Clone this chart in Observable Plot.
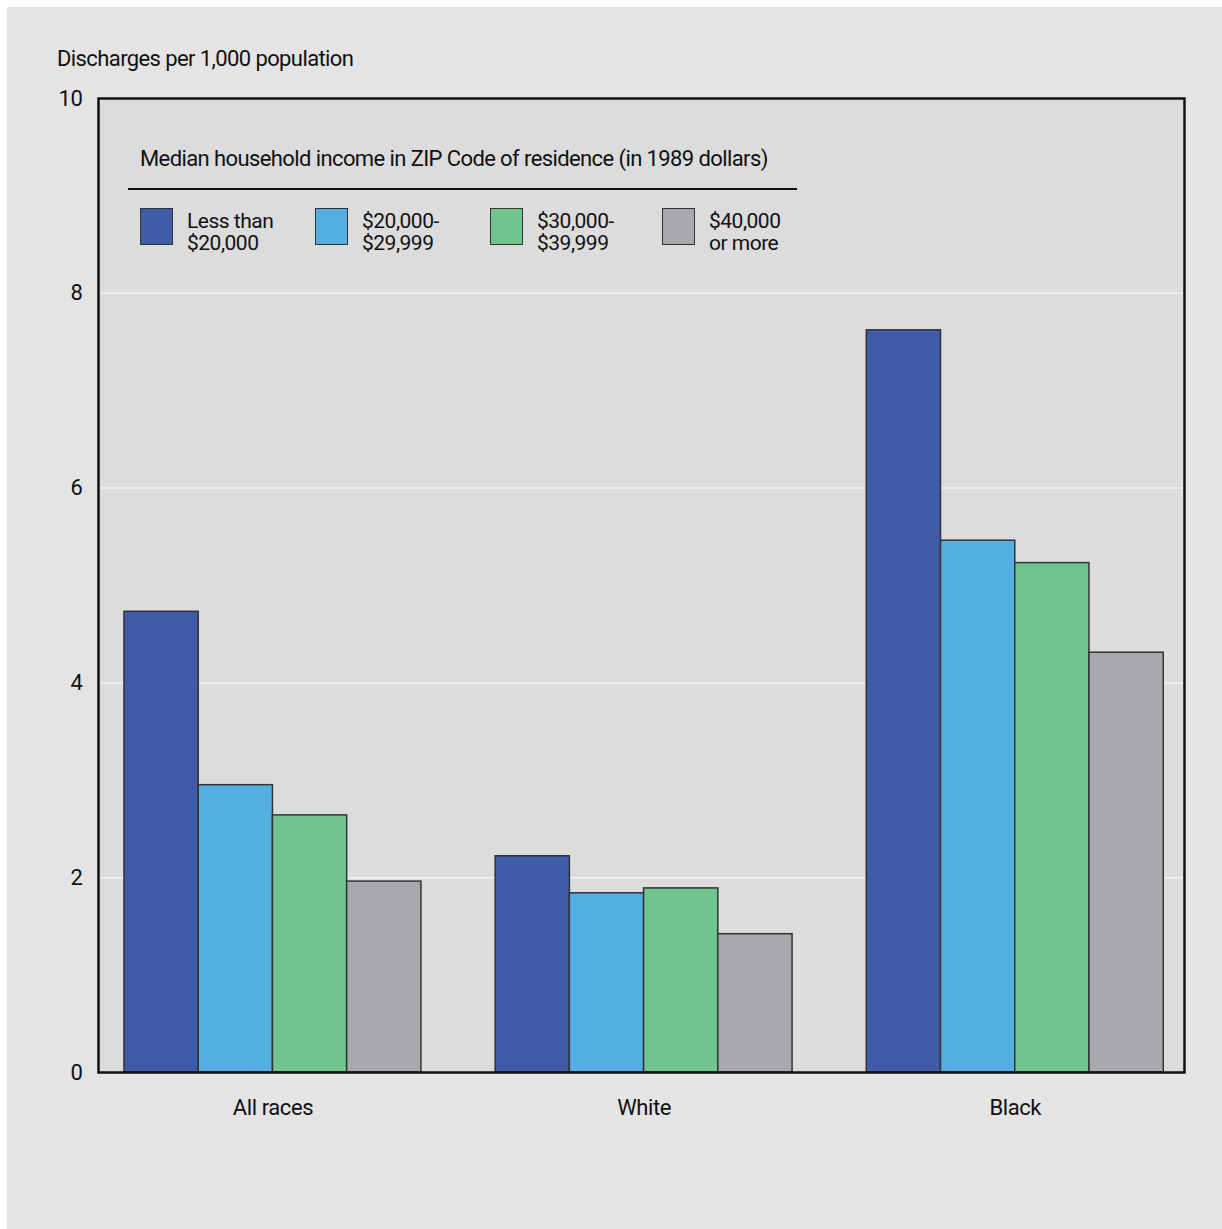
<!DOCTYPE html>
<html>
<head>
<meta charset="utf-8">
<script src="https://cdn.jsdelivr.net/npm/d3@7"></script>
<script src="https://cdn.jsdelivr.net/npm/@observablehq/plot@0.6"></script>
<style>
  html, body { margin: 0; padding: 0; background: #ffffff; }
  #panel {
    position: absolute; left: 7px; top: 7px; width: 1215px; height: 1222px;
    background: #e4e4e4; overflow: hidden;
    font-family: "Liberation Sans Narrow", "Roboto", "Liberation Sans", sans-serif;
  }
  #chart { position: absolute; left: -7px; top: -7px; }
  #ylabel { position: absolute; left: 50px; top: 39px; font-size: 22px; letter-spacing: -0.6px; color: #111; white-space: nowrap; }
  #legend { position: absolute; left: 121px; top: 140px; width: 669px; color: #111; }
  #legend .title { font-size: 22px; letter-spacing: -0.6px; padding-left: 12px; white-space: nowrap; line-height: 24px; }
  #legend .rule { margin-top: 17px; border-top: 2px solid #111; width: 669px; }
  #legend .items { position: relative; height: 60px; margin-top: 18px; }
  #legend .item { position: absolute; top: 0; }
  #legend .sw { position: absolute; left: 0; top: 0; width: 31px; height: 35px; border: 1.5px solid #333; }
  #legend .lab { position: absolute; left: 47px; top: 2px; font-size: 21px; letter-spacing: -0.5px; line-height: 22px; white-space: nowrap; }
</style>
</head>
<body>
<div id="panel">
  <div id="chart"></div>
  <div id="ylabel">Discharges per 1,000 population</div>
  <div id="legend">
    <div class="title">Median household income in ZIP Code of residence (in 1989 dollars)</div>
    <div class="rule"></div>
    <div class="items" id="items"></div>
  </div>
</div>
<script>
// ---- data ----
const groups = ["All races", "White", "Black"];
const incomes = ["Less than $20,000", "$20,000-$29,999", "$30,000-$39,999", "$40,000 or more"];
const legendLines = [["Less than", "$20,000"], ["$20,000-", "$29,999"], ["$30,000-", "$39,999"], ["$40,000", "or more"]];
const colors = ["#405ca9", "#55aee2", "#70c58e", "#a8a9ad"];
const allRaces = [4.73, 2.95, 2.64, 1.96];
const white = [2.22, 1.84, 1.89, 1.42];
const black = [7.62, 5.46, 5.23, 4.31];
const yTicks = [0, 2, 4, 6, 8, 10];

const series = [allRaces, white, black];
const stride = 5; // 4 bars + 1 gap per group
const data = [];
groups.forEach((g, gi) => {
  incomes.forEach((inc, ii) => {
    data.push({group: g, income: inc, value: series[gi][ii], x1: gi * stride + ii, x2: gi * stride + ii + 1});
  });
});

const plot = Plot.plot({
  width: 1222,
  height: 1229,
  marginTop: 98,
  marginLeft: 98,
  marginRight: 38,
  marginBottom: 157,
  style: {background: "transparent", fontFamily: "'Liberation Sans Narrow', Roboto, sans-serif", fontSize: "22px", color: "#111", letterSpacing: "-0.4px"},
  x: {domain: [-0.35, 14.28], ticks: groups.map((g, i) => i * stride + 2), tickFormat: (d) => groups[Math.round((d - 2) / stride)], tickSize: 0, tickPadding: 27, label: null},
  y: {domain: [0, 10], ticks: yTicks, tickSize: 0, tickPadding: 16, label: null},
  color: {domain: incomes, range: colors},
  marks: [
    Plot.frame({fill: "#dcdcdc", stroke: null}),
    Plot.ruleY(yTicks.filter(d => d > 0 && d < 10), {stroke: "#f2f2f2", strokeWidth: 1.5}),
    Plot.rectY(data, {x1: "x1", x2: "x2", y: "value", fill: "income", stroke: "#333", strokeWidth: 1.5}),
    Plot.frame({stroke: "#111", strokeWidth: 2.5})
  ]
});
document.getElementById("chart").appendChild(plot);

// legend
const items = document.getElementById("items");
const offsets = [12, 187, 362, 534];
legendLines.forEach((lines, i) => {
  const it = document.createElement("div");
  it.className = "item";
  it.style.left = offsets[i] + "px";
  const sw = document.createElement("div");
  sw.className = "sw";
  sw.style.background = colors[i];
  const lab = document.createElement("div");
  lab.className = "lab";
  lab.innerHTML = lines.join("<br>");
  it.appendChild(sw); it.appendChild(lab);
  items.appendChild(it);
});
</script>
</body>
</html>
